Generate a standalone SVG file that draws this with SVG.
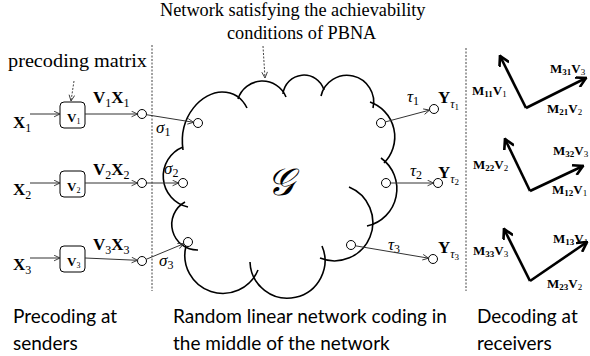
<svg xmlns="http://www.w3.org/2000/svg" width="590" height="356" viewBox="0 0 590 356">
<style>
.ln{stroke:#333;stroke-width:1;fill:none}
.nd{fill:#fff;stroke:#000;stroke-width:1}
.bx{fill:#fff;stroke:#000;stroke-width:1}
.cl{fill:none;stroke:#000;stroke-width:1.6}
.dash{stroke:#444;stroke-width:1;stroke-dasharray:2 1.5;fill:none}
.dv{stroke:#000;stroke-width:2.6;fill:none}
.ser{font-family:"Liberation Serif","DejaVu Serif",serif;fill:#000}
.b{font-weight:bold}
.it{font-style:italic}
.sans{font-family:Lato,"Liberation Sans",sans-serif;fill:#000;font-size:19px}
.ml{font-family:"Liberation Serif","DejaVu Serif",serif;font-weight:bold;font-size:13px}
.ms{font-size:9px}
</style>
<defs>
<marker id="ah" viewBox="0 0 10 10" refX="9.5" refY="5" markerWidth="7" markerHeight="7" markerUnits="userSpaceOnUse" orient="auto"><path d="M1,1 L9.5,5 L1,9" fill="none" stroke="#333" stroke-width="1.3"/></marker>
<marker id="bh" viewBox="0 0 10 10" refX="9" refY="5" markerWidth="12" markerHeight="12" markerUnits="userSpaceOnUse" orient="auto"><path d="M1,0.5 L9,5 L1,9.5" fill="none" stroke="#000" stroke-width="2.2"/></marker>
</defs>

<g id="separators">
<line class="dash" x1="152" y1="45" x2="152" y2="291"/>
<line class="dash" x1="466" y1="48" x2="466" y2="291"/>
</g>

<g id="annotations">
<text class="ser" x="160" y="16" font-size="18.3">Network satisfying the achievability</text>
<text class="ser" x="227" y="39" font-size="18.3">conditions of PBNA</text>
<text class="ser" x="8" y="67" font-size="19" textLength="139" lengthAdjust="spacingAndGlyphs">precoding matrix</text>
</g>

<g id="network">
<path class="cl" d="M183,150 C178,115 203,92 222,92 C235,92 243,100 247,108"/>
<path class="cl" d="M238,99 A25.5,25.5 0 0,1 286,97"/>
<path class="cl" d="M283,94 A21,21 0 0,1 324,90"/>
<path class="cl" d="M321,96 A26,26 0 0,1 373,108"/>
<path class="cl" d="M370,102 A37,37 0 0,1 384,163"/>
<path class="cl" d="M381,158 A38,38 0 0,1 367,226"/>
<path class="cl" d="M349,187 A38,38 0 0,1 320,258"/>
<path class="cl" d="M322,246 A37.5,37.5 0 1,1 250,262"/>
<path class="cl" d="M258,270 A38.05,38.05 0 0,1 186,246"/>
<path class="cl" d="M198,250 A25.6,25.6 0 0,1 185,202"/>
<path class="cl" d="M188,207 A31.5,31.5 0 0,1 183,147"/>
<text class="ser it" x="267" y="195" font-size="38" font-family="'DejaVu Serif',serif">𝒢</text>
</g>

<g id="sender1">
<text class="ser b" x="13" y="128" font-size="17">X<tspan font-weight="normal" font-size="12" dy="4">1</tspan></text>
<rect class="bx" x="60" y="102" width="25" height="26" rx="4"/>
<text class="ser b" x="67" y="122" font-size="13">V<tspan font-weight="normal" font-size="8" dy="2">1</tspan></text>
<text class="ser b" x="93" y="103" font-size="17">V<tspan font-weight="normal" font-size="12" dy="4">1</tspan><tspan dy="-4">X</tspan><tspan font-weight="normal" font-size="12" dy="4">1</tspan></text>
<circle class="nd" cx="142" cy="114" r="4.5"/>
</g>
<g id="sender2">
<text class="ser b" x="13" y="195" font-size="17">X<tspan font-weight="normal" font-size="12" dy="4">2</tspan></text>
<rect class="bx" x="60" y="171" width="25" height="26" rx="4"/>
<text class="ser b" x="67" y="191" font-size="13">V<tspan font-weight="normal" font-size="8" dy="2">2</tspan></text>
<text class="ser b" x="93" y="175" font-size="17">V<tspan font-weight="normal" font-size="12" dy="4">2</tspan><tspan dy="-4">X</tspan><tspan font-weight="normal" font-size="12" dy="4">2</tspan></text>
<circle class="nd" cx="142" cy="183" r="4.5"/>
</g>
<g id="sender3">
<text class="ser b" x="13" y="270" font-size="17">X<tspan font-weight="normal" font-size="12" dy="4">3</tspan></text>
<rect class="bx" x="60" y="246" width="25" height="26" rx="4"/>
<text class="ser b" x="67" y="266" font-size="13">V<tspan font-weight="normal" font-size="8" dy="2">3</tspan></text>
<text class="ser b" x="93" y="250" font-size="17">V<tspan font-weight="normal" font-size="12" dy="4">3</tspan><tspan dy="-4">X</tspan><tspan font-weight="normal" font-size="12" dy="4">3</tspan></text>
<circle class="nd" cx="142" cy="261" r="4.5"/>
</g>

<g id="ports">
<circle class="nd" cx="198" cy="123" r="4.5"/>
<circle class="nd" cx="183" cy="183" r="4.5"/>
<circle class="nd" cx="188" cy="242" r="4.5"/>
<circle class="nd" cx="381" cy="123" r="4.5"/>
<circle class="nd" cx="386" cy="183" r="4.5"/>
<circle class="nd" cx="351" cy="245" r="4.5"/>
<text class="ser it" x="156" y="133" font-size="17">σ<tspan font-style="normal" font-size="12" dy="3">1</tspan></text>
<text class="ser it" x="164" y="174" font-size="17">σ<tspan font-style="normal" font-size="12" dy="3">2</tspan></text>
<text class="ser it" x="159" y="266" font-size="17">σ<tspan font-style="normal" font-size="12" dy="3">3</tspan></text>
<text class="ser it" x="407" y="102" font-size="17">τ<tspan font-style="normal" font-size="12" dy="3">1</tspan></text>
<text class="ser it" x="410" y="176" font-size="17">τ<tspan font-style="normal" font-size="12" dy="3">2</tspan></text>
<text class="ser it" x="388" y="250" font-size="17">τ<tspan font-style="normal" font-size="12" dy="3">3</tspan></text>
</g>

<g id="receiver1">
<circle class="nd" cx="434" cy="109" r="4.5"/>
<text class="ser b" x="438" y="103" font-size="17">Y<tspan font-weight="normal" font-style="italic" font-size="12" dy="5">τ</tspan><tspan font-weight="normal" font-size="9" dy="2">1</tspan></text>
</g>
<g id="receiver2">
<circle class="nd" cx="438" cy="183" r="4.5"/>
<text class="ser b" x="438" y="178" font-size="17">Y<tspan font-weight="normal" font-style="italic" font-size="12" dy="5">τ</tspan><tspan font-weight="normal" font-size="9" dy="2">2</tspan></text>
</g>
<g id="receiver3">
<circle class="nd" cx="433" cy="259" r="4.5"/>
<text class="ser b" x="438" y="253" font-size="17">Y<tspan font-weight="normal" font-style="italic" font-size="12" dy="5">τ</tspan><tspan font-weight="normal" font-size="9" dy="2">3</tspan></text>
</g>

<g id="connectors">
<line class="ln" x1="30" y1="114" x2="60" y2="114" marker-end="url(#ah)"/>
<line class="ln" x1="30" y1="183" x2="60" y2="183" marker-end="url(#ah)"/>
<line class="ln" x1="30" y1="258" x2="60" y2="258" marker-end="url(#ah)"/>
<line class="ln" x1="85" y1="114" x2="137.5" y2="114" marker-end="url(#ah)"/>
<line class="ln" x1="85" y1="183" x2="137.5" y2="183" marker-end="url(#ah)"/>
<line class="ln" x1="85" y1="258" x2="137.6" y2="260.3" marker-end="url(#ah)"/>
<line class="ln" x1="146.4" y1="114.7" x2="193.6" y2="122.3" marker-end="url(#ah)"/>
<line class="ln" x1="146.5" y1="183" x2="178.5" y2="183" marker-end="url(#ah)"/>
<line class="ln" x1="146.2" y1="259.3" x2="183.8" y2="243.7" marker-end="url(#ah)"/>
<line class="ln" x1="385.4" y1="121.9" x2="429.6" y2="110.1" marker-end="url(#ah)"/>
<line class="ln" x1="390.5" y1="183" x2="433.5" y2="183" marker-end="url(#ah)"/>
<line class="ln" x1="355.4" y1="245.8" x2="428.6" y2="258.2" marker-end="url(#ah)"/>
<line class="dash" x1="74" y1="81" x2="71" y2="101" marker-end="url(#ah)"/>
<line class="dash" x1="263" y1="46" x2="265" y2="78" marker-end="url(#ah)"/>
</g>

<g id="decoder1">
<path class="dv" d="M526,108 L500,56" marker-end="url(#bh)"/>
<path class="dv" d="M526,108 L586,78" marker-end="url(#bh)"/>
<text class="ml" x="472" y="95">M<tspan class="ms" dy="2">11</tspan><tspan dy="-2">V</tspan><tspan class="ms" font-weight="normal" dy="2">1</tspan></text>
<text class="ml" x="550" y="73">M<tspan class="ms" dy="2">31</tspan><tspan dy="-2">V</tspan><tspan class="ms" font-weight="normal" dy="2">3</tspan></text>
<text class="ml" x="547" y="113">M<tspan class="ms" dy="2">21</tspan><tspan dy="-2">V</tspan><tspan class="ms" font-weight="normal" dy="2">2</tspan></text>
</g>
<g id="decoder2">
<path class="dv" d="M530,191 L505,139" marker-end="url(#bh)"/>
<path class="dv" d="M530,191 L583,166" marker-end="url(#bh)"/>
<text class="ml" x="473" y="169">M<tspan class="ms" dy="2">22</tspan><tspan dy="-2">V</tspan><tspan class="ms" font-weight="normal" dy="2">2</tspan></text>
<text class="ml" x="553" y="155">M<tspan class="ms" dy="2">32</tspan><tspan dy="-2">V</tspan><tspan class="ms" font-weight="normal" dy="2">3</tspan></text>
<text class="ml" x="552" y="194">M<tspan class="ms" dy="2">12</tspan><tspan dy="-2">V</tspan><tspan class="ms" font-weight="normal" dy="2">1</tspan></text>
</g>
<g id="decoder3">
<path class="dv" d="M530,281 L504,229" marker-end="url(#bh)"/>
<path class="dv" d="M530,281 L587,242" marker-end="url(#bh)"/>
<text class="ml" x="553" y="243">M<tspan class="ms" dy="2">13</tspan><tspan dy="-2">V</tspan><tspan class="ms" font-weight="normal" dy="2">1</tspan></text>
<text class="ml" x="473" y="255">M<tspan class="ms" dy="2">33</tspan><tspan dy="-2">V</tspan><tspan class="ms" font-weight="normal" dy="2">3</tspan></text>
<text class="ml" x="547" y="288">M<tspan class="ms" dy="2">23</tspan><tspan dy="-2">V</tspan><tspan class="ms" font-weight="normal" dy="2">2</tspan></text>
</g>

<g id="captions">
<text class="sans" x="13" y="323">Precoding at</text>
<text class="sans" x="13" y="350">senders</text>
<text class="sans" x="173" y="323">Random linear network coding in</text>
<text class="sans" x="173" y="350">the middle of the network</text>
<text class="sans" x="477" y="323">Decoding at</text>
<text class="sans" x="477" y="350">receivers</text>
</g>
</svg>
